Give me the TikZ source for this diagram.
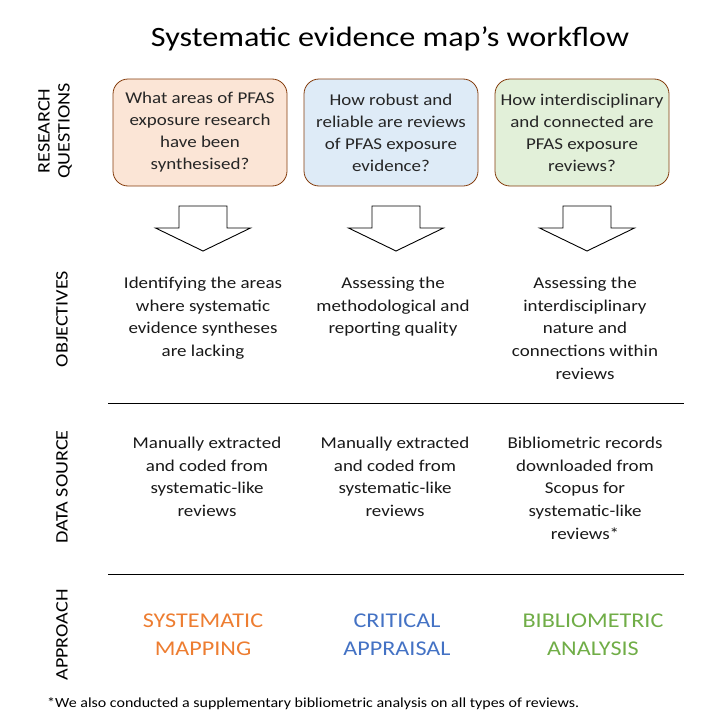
\documentclass[tikz,border=0pt]{standalone}
\usepackage{fontspec}
\setmainfont{Carlito}[FakeStretch=1.15]
\definecolor{boxline}{HTML}{843C0C}
\definecolor{fillA}{HTML}{FBE5D6}
\definecolor{fillB}{HTML}{DEEBF7}
\definecolor{fillC}{HTML}{E2F0D9}
\definecolor{apA}{HTML}{ED7D31}
\definecolor{apB}{HTML}{4472C4}
\definecolor{apC}{HTML}{70AD47}
\begin{document}
\begin{tikzpicture}[x=1pt,y=-1pt,
  qbox/.style={draw=boxline, line width=0.8pt, rounded corners=15pt, minimum width=174pt, minimum height=107pt, align=center, inner sep=0pt, font=\fontsize{16.5}{22}\selectfont, text=black!85},
  body/.style={align=center, inner sep=0pt, anchor=north, font=\fontsize{16.5}{22.6}\selectfont, text=black!90},
  side/.style={rotate=90, align=center, inner sep=0pt, font=\fontsize{17.5}{20}\selectfont},
  appr/.style={align=center, inner sep=0pt, anchor=north, font=\fontsize{21}{28}\selectfont},
  blockarrow/.style={draw=black, line width=0.9pt, fill=white, line join=miter},
  rule/.style={line width=0.9pt, draw=black}
]
\useasboundingbox (0,0) rectangle (720,720);

% title
\node[inner sep=0pt, font=\fontsize{28}{34}\selectfont] (title) at (390,39) {Systematic evidence map’s workflow};

% side labels
\node[side] (lRQ) at (55,131) {RESEARCH\\QUESTIONS};
\node[side] (lOB) at (62,319) {OBJECTIVES};
\node[side] (lDS) at (62,487) {DATA SOURCE};
\node[side] (lAP) at (62,635) {APPROACH};

% research question boxes
\node[qbox, fill=fillA] (q1) at (200,132.5) {What areas of PFAS\\exposure research\\have been\\synthesised?};
\node[qbox, fill=fillB] (q2) at (391,132.5) {How robust and\\reliable are reviews\\of PFAS exposure\\evidence?};
\node[qbox, fill=fillC] (q3) at (582,132.5) {How interdisciplinary\\and connected are\\PFAS exposure\\reviews?};

% block arrows
\foreach \c/\n in {203/a1,396/a2,587/a3}{
  \draw[blockarrow] (\c-24,206) -- (\c+24,206) -- (\c+24,228) -- (\c+47.5,228) -- (\c,251) -- (\c-47.5,228) -- (\c-24,228) -- cycle;
}

% objectives
\node[body] (o1) at (203,277) {Identifying the areas\\where systematic\\evidence syntheses\\are lacking};
\node[body] (o2) at (393,277) {Assessing the\\methodological and\\reporting quality};
\node[body] (o3) at (585,277) {Assessing the\\interdisciplinary\\nature and\\connections within\\reviews};

% rules
\coordinate (r1a) at (108,403); \coordinate (r1b) at (684,403);
\coordinate (r2a) at (108,574); \coordinate (r2b) at (684,574);
\draw[rule] (r1a) -- (r1b);
\draw[rule] (r2a) -- (r2b);

% data source
\node[body] (d1) at (207,437) {Manually extracted\\and coded from\\systematic-like\\reviews};
\node[body] (d2) at (395,437) {Manually extracted\\and coded from\\systematic-like\\reviews};
\node[body] (d3) at (585,437) {Bibliometric records\\downloaded from\\Scopus for\\systematic-like\\reviews*};

% approach
\node[appr, text=apA] (p1) at (203,614) {SYSTEMATIC\\MAPPING};
\node[appr, text=apB] (p2) at (397,614) {CRITICAL\\APPRAISAL};
\node[appr, text=apC] (p3) at (593,614) {BIBLIOMETRIC\\ANALYSIS};

% footnote
\node[anchor=west, inner sep=0pt, font=\fontsize{13.9}{16}\selectfont] (fn) at (47,704) {*We also conducted a supplementary bibliometric analysis on all types of reviews.};
\end{tikzpicture}
\end{document}
